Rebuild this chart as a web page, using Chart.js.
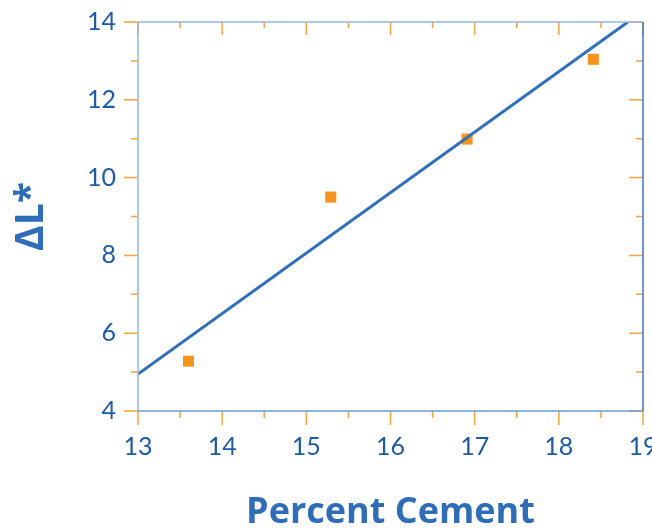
<!DOCTYPE html>
<html>
<head>
<meta charset="utf-8">
<script src="https://cdn.jsdelivr.net/npm/chart.js@4.4.1/dist/chart.umd.min.js"></script>
<style>
  body { margin: 0; background: #fff; }
  #wrap { width: 652px; height: 531px; }
</style>
</head>
<body>
<div id="wrap"><canvas id="cement-chart" width="652" height="531"></canvas></div>
<script>
const CEMENT_PCT = [13.6, 15.29, 16.91, 18.41];
const DELTA_L = [5.28, 9.5, 10.99, 13.04];
// fitted line, endpoints
const FIT_X = [13, 18.82];
const FIT_Y = [4.95, 14];

const TICK_ORANGE = '#f8a33c';
const LABEL_BLUE = '#1d5ba6';
const TITLE_BLUE = '#2f6db8';

const toPoints = (xs, ys) => xs.map((x, i) => ({ x: x, y: ys[i] }));

// frame + inward/outward ticks on all four sides
const framePlugin = {
  id: 'frameTicks',
  afterDatasetsDraw(chart) {
    const { ctx, chartArea: a, scales: { x, y } } = chart;
    ctx.save();
    ctx.lineWidth = 1.5;
    ctx.strokeStyle = TICK_ORANGE;
    for (let v = 13; v <= 19.001; v += 0.5) {
      const px = x.getPixelForValue(v);
      const len = Number.isInteger(v) ? 14 : 7;
      ctx.beginPath();
      ctx.moveTo(px, a.bottom); ctx.lineTo(px, a.bottom + len);
      ctx.moveTo(px, a.top); ctx.lineTo(px, a.top + len - 1);
      ctx.stroke();
    }
    for (let v = 4; v <= 14.001; v += 1) {
      const py = y.getPixelForValue(v);
      const len = v % 2 === 0 ? 14 : 7;
      ctx.beginPath();
      ctx.moveTo(a.left, py); ctx.lineTo(a.left - len, py);
      ctx.moveTo(a.right, py); ctx.lineTo(a.right - len, py);
      ctx.stroke();
    }
    ctx.lineWidth = 1.5;
    ctx.strokeStyle = '#94b6e4';
    ctx.beginPath();
    ctx.moveTo(a.left, a.bottom); ctx.lineTo(a.left, a.top); ctx.lineTo(a.right, a.top);
    ctx.stroke();
    ctx.strokeStyle = '#6f98d2';
    ctx.beginPath();
    ctx.moveTo(a.left, a.bottom); ctx.lineTo(a.right, a.bottom);
    ctx.stroke();
    ctx.strokeStyle = '#3d74bd';
    ctx.beginPath();
    ctx.moveTo(a.right, a.top); ctx.lineTo(a.right, a.bottom);
    ctx.stroke();
    ctx.restore();
  }
};

new Chart(document.getElementById('cement-chart'), {
  type: 'scatter',
  data: {
    datasets: [
      {
        type: 'line',
        data: toPoints(FIT_X, FIT_Y),
        borderColor: '#2f6fbd',
        borderWidth: 3,
        pointRadius: 0,
        fill: false
      },
      {
        data: toPoints(CEMENT_PCT, DELTA_L),
        pointStyle: 'rect',
        pointRadius: 7.8,
        pointBorderWidth: 0,
        backgroundColor: '#f7941d',
        borderColor: '#f7941d'
      }
    ]
  },
  options: {
    responsive: false,
    animation: false,
    layout: { padding: { top: 22, right: 9, left: 0, bottom: 0 } },
    plugins: { legend: { display: false }, tooltip: { enabled: false } },
    scales: {
      x: {
        type: 'linear',
        min: 13,
        max: 19,
        border: { display: false },
        grid: { display: false, drawTicks: false },
        ticks: {
          stepSize: 1,
          padding: 21,
          color: LABEL_BLUE,
          font: { family: 'Lato', size: 25 }
        },
        title: {
          display: true,
          text: 'Percent Cement',
          color: TITLE_BLUE,
          font: { family: 'Open Sans', size: 36, weight: 'bold', lineHeight: 1 },
          padding: { top: 0, bottom: 0 }
        },
        afterFit: (scale) => {
          scale.height = 120;
          scale.paddingLeft = 0;
          scale.paddingRight = 0;
        }
      },
      y: {
        min: 4,
        max: 14,
        border: { display: false },
        grid: { display: false, drawTicks: false },
        ticks: {
          stepSize: 2,
          padding: 22,
          color: LABEL_BLUE,
          font: { family: 'Lato', size: 25 }
        },
        title: {
          display: true,
          text: 'ΔL*',
          color: TITLE_BLUE,
          font: { family: 'Open Sans', size: 39, weight: 'bold', lineHeight: 1 },
          padding: { top: 12, bottom: 0 }
        },
        afterFit: (scale) => {
          scale.width = 138;
          scale.paddingTop = 0;
          scale.paddingBottom = 0;
        }
      }
    }
  },
  plugins: [framePlugin]
});
</script>
</body>
</html>
